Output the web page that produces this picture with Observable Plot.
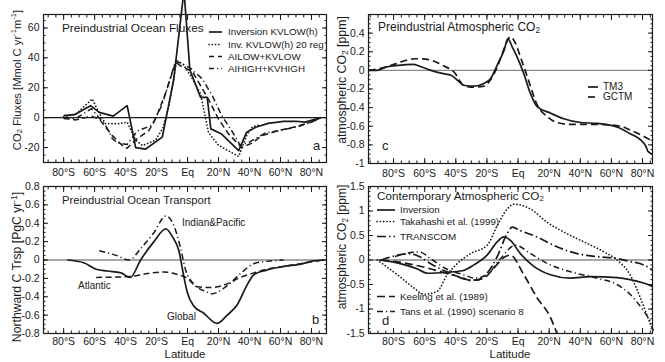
<!DOCTYPE html>
<html><head><meta charset="utf-8">
<script src="https://cdn.jsdelivr.net/npm/d3@7"></script>
<script src="https://cdn.jsdelivr.net/npm/@observablehq/plot@0.6"></script>
<style>
body{margin:0;background:#fff}
#wrap{position:relative;width:665px;height:362px;overflow:hidden;font-family:"Liberation Sans",Arial,sans-serif}
#wrap svg{position:absolute;left:0;top:0}
</style></head><body><div id="wrap"></div>
<script>
// ---------- DATA (latitude, value) ----------
// Panel a: Preindustrial Ocean Fluxes
const fluxInversion = [[-80,1.3],[-73,2],[-62.6,8],[-57,3.5],[-54,2.7],[-48,1],[-39,8],[-34.6,-14],[-33.5,-20],[-27,-21],[-16.3,-13],[-9,25],[-2.3,85],[1.5,32],[8.4,13.5],[12.7,13.5],[15,-7.5],[22,-11],[33,-22],[38,-10],[44,-6.4],[52,-3.8],[62,-2.5],[70,-2.4],[76,-3],[86,0]];
const fluxInv20 = [[-80,0.5],[-72,2.5],[-61.5,12.5],[-57,3],[-53,-4],[-44,-4],[-39,-3],[-33.5,-15],[-29,-18.7],[-20.6,-15],[-16,-7],[-12,8],[-7,38],[-3,36],[2,28],[8.4,16],[13.5,-10],[20,-18.5],[33,-26],[38.5,-11],[42,-6],[46,-5]];
const fluxAILow = [[-80,-0.5],[-72,-1.5],[-62,1],[-57,-1],[-48.6,-12],[-42,-18.7],[-39,-20.5],[-32.5,-14],[-25,-8.7],[-20.6,-0.7],[-14,17],[-7.7,37],[-3.5,34],[3,31],[7,24],[13.5,12.3],[20,-1],[26.5,-11],[35,-20],[41.7,-17],[48,-12],[59,-8.5],[70,-6],[80,-3],[86,0]];
const fluxAIHigh = [[-80,0],[-72,-0.5],[-62,6],[-58,1],[-53,-5],[-48.6,-14],[-45,-17],[-39,-18],[-32.5,-9],[-22.8,-5],[-16.3,9],[-7.7,38],[-3.5,36],[2,33],[9.5,26],[16,14.7],[22,1.5],[29,-9.6],[34,-18.5],[39.6,-16.5],[50,-10.4],[61,-8.3],[72,-5.7],[85,-1]];
// Panel b: Preindustrial Ocean Transport
const trspGlobal = [[-77.6,0],[-67,-0.03],[-59,-0.1],[-51.8,-0.12],[-43,-0.14],[-37,-0.19],[-30.3,0],[-21.7,0.2],[-14,0.34],[-10,0.26],[-5.6,0.1],[-2.4,-0.18],[-0.2,-0.35],[4,-0.5],[10.5,-0.58],[19,-0.69],[25.6,-0.6],[32,-0.49],[38.5,-0.27],[42.8,-0.16],[51,-0.11],[62,-0.07],[73,-0.045],[81,-0.01],[88,0]];
const trspIndPac = [[-57,0.1],[-46,0.05],[-37.8,0],[-30,0.13],[-21.6,0.3],[-14,0.48],[-9,0.38],[-4.5,0.13],[-1.4,-0.1],[4,-0.26],[12.7,-0.35],[15,-0.37],[25.6,-0.28],[34,-0.15],[42.8,-0.04],[51,-0.015],[62,0]];
const trspAtlantic = [[-59,-0.19],[-37,-0.18],[-27,-0.15],[-15.5,-0.13],[-7,-0.155],[0,-0.2],[6,-0.29],[15,-0.3],[25.6,-0.26],[34,-0.19],[42.8,-0.14],[51,-0.1],[62,-0.07],[73,-0.04],[88,0]];
// Panel c: Preindustrial Atmospheric CO2
const co2TM3 = [[-96,0],[-90.7,0],[-85,0.035],[-78.7,0.05],[-67,0.065],[-64,0.05],[-56,0],[-48,-0.035],[-43.4,-0.05],[-38,-0.12],[-35,-0.16],[-28.5,-0.17],[-22,-0.14],[-17.7,-0.09],[-13,0.07],[-9,0.215],[-6.5,0.34],[-3.7,0.25],[-0.5,0.14],[3.7,-0.035],[8,-0.25],[12.3,-0.39],[21,-0.46],[29.4,-0.52],[40,-0.56],[51,-0.57],[64,-0.61],[72,-0.68],[79,-0.75],[82,-0.81],[83.5,-0.87],[86.4,-0.9]];
const co2GCTM = [[-96,0],[-85,0.035],[-78.7,0.07],[-66,0.125],[-63,0.125],[-56,0.11],[-48,0.05],[-41,-0.02],[-35,-0.16],[-28.5,-0.18],[-22,-0.17],[-17.7,-0.1],[-13,0.05],[-9,0.23],[-5,0.36],[-1.6,0.29],[1.6,0.14],[6,-0.07],[12.3,-0.37],[19,-0.5],[25,-0.56],[34,-0.58],[51,-0.58],[66,-0.6],[72,-0.64],[81,-0.71],[86.4,-0.76]];
// Panel d: Contemporary Atmospheric CO2
const ctInversion = [[-89.5,0],[-77.6,-0.06],[-65,-0.18],[-58,-0.27],[-45.5,-0.25],[-35.9,-0.22],[-28.4,-0.1],[-19.9,0.1],[-13.4,0.37],[-9.2,0.47],[-4.9,0.4],[1.5,0.13],[10.1,-0.13],[20.8,-0.3],[33.6,-0.37],[46.5,-0.34],[63.6,-0.36],[72,-0.4],[80.7,-0.47],[86.4,-0.54]];
const ctTakahashi = [[-90.5,0],[-77.6,-0.3],[-66.9,-0.57],[-60.5,-0.7],[-52,-0.64],[-45.5,-0.3],[-39,-0.07],[-30.5,0.13],[-19.9,0.3],[-13.4,0.7],[-7,1.04],[-2.7,1.14],[8,1.04],[18.7,0.77],[29.4,0.57],[42.3,0.37],[55,0.17],[63.6,0],[72,-0.3],[78.6,-0.77],[85,-1.3],[87,-1.44]];
const ctTranscom = [[-88,0],[-69.3,0.13],[-62.9,0.06],[-56.4,-0.07],[-43.6,-0.27],[-32.9,-0.4],[-26.4,-0.41],[-19.9,-0.27],[-13.4,0.07],[-7,0.54],[-3.7,0.67],[1.5,0.6],[12.2,0.47],[25,0.27],[37.9,0.13],[50.7,0.07],[63.6,0.03],[72,-0.03],[80.7,-0.1],[86,-0.2]];
const ctKeeling = [[-88,0],[-75,-0.05],[-60,-0.15],[-45,-0.28],[-35,-0.37],[-30.5,-0.42],[-22,-0.37],[-15.6,-0.17],[-9.2,0.05],[-4.9,0.1],[3.7,-0.3],[12.2,-0.77],[20.8,-1.17],[25,-1.5]];
const ctTans = [[-79,0.07],[-72.8,0.13],[-64,0.17],[-55,0.0],[-45,-0.2],[-35,-0.3],[-28,-0.37],[-20,-0.3],[-12,0.0],[-1.6,0.3],[8,0.13],[18.7,-0.07],[33.7,-0.24],[50.7,-0.37],[63.6,-0.5],[72,-0.7],[80.7,-1.04],[85,-1.24]];

// ticks
const latMajor = [-80,-60,-40,-20,0,20,40,60,80];
const yTicksA = [-20,0,20,40,60];
const yTicksB = [-0.8,-0.6,-0.4,-0.2,0,0.2,0.4,0.6,0.8];
const yTicksC = [-1,-0.8,-0.6,-0.4,-0.2,0,0.2,0.4];
const yTicksD = [-1.5,-1,-0.5,0,0.5,1,1.5];

// ---------- STYLES ----------
const INK = "#1a1a1a";
const S = {
  solid:   {dash: null, w: 1.7},
  dotted:  {dash: "0.1,3.2", w: 1.7, cap: "round"},
  dashed:  {dash: "6,3.5", w: 1.5},
  dashdot: {dash: "6,3,1.2,3", w: 1.5},
  longdd:  {dash: "9,3,1.5,3", w: 1.7}
};
const W = 665, H = 362;
const fmtLat = d => d === 0 ? "Eq" : Math.abs(d) + "°" + (d < 0 ? "S" : "N");
const fmtNum = d => String(Math.round(d * 100) / 100);
const range = (a, b, s) => d3.range(Math.round(a / s), Math.round(b / s) + 1).map(i => +(i * s).toFixed(6));

function series(data, st, curve) {
  return Plot.line(data, {x: d => d[0], y: d => d[1], stroke: INK, strokeWidth: st.w,
    strokeDasharray: st.dash, strokeLinecap: st.cap || "butt", strokeLinejoin: "round", curve: curve || "linear"});
}

function panel(o) {
  const xMinor = range(Math.ceil(o.xdom[0] / 5) * 5, Math.floor(o.xdom[1] / 5) * 5, 5);
  const yMinor = range(Math.ceil(o.ydom[0] / o.ym - 1e-9) * o.ym, Math.floor(o.ydom[1] / o.ym + 1e-9) * o.ym, o.ym);
  const blank = () => "";
  return Plot.plot({
    width: W, height: H,
    marginLeft: o.ml, marginRight: W - o.r, marginTop: o.t, marginBottom: H - o.b,
    x: {domain: o.xdom, axis: null},
    y: {domain: o.ydom, axis: null},
    style: {background: "transparent", fontFamily: "Liberation Sans, Arial, sans-serif", fontSize: "10.5px", color: INK, overflow: "visible"},
    marks: [
      Plot.ruleY([0], {stroke: o.zero, strokeWidth: o.zw}),
      ...o.lines,
      Plot.frame({stroke: INK, strokeWidth: 1.2}),
      Plot.axisX({anchor: "bottom", ticks: xMinor, tickSize: -2.5, tickFormat: blank, label: null, stroke: INK}),
      Plot.axisX({anchor: "top", ticks: xMinor, tickSize: -2.5, tickFormat: blank, label: null, stroke: INK}),
      Plot.axisX({anchor: "bottom", ticks: latMajor, tickSize: -5, tickFormat: blank, label: null, stroke: INK}),
      Plot.axisX({anchor: "top", ticks: latMajor, tickSize: -5, tickFormat: blank, label: null, stroke: INK}),
      Plot.axisX({anchor: "bottom", ticks: latMajor, tickSize: 0, tickPadding: o.xpad, tickFormat: fmtLat, label: null, fill: INK}),
      Plot.axisY({anchor: "left", ticks: yMinor, tickSize: -2.5, tickFormat: blank, label: null, stroke: INK}),
      Plot.axisY({anchor: "right", ticks: yMinor, tickSize: -2.5, tickFormat: blank, label: null, stroke: INK}),
      Plot.axisY({anchor: "left", ticks: o.yt, tickSize: -5, tickFormat: blank, label: null, stroke: INK}),
      Plot.axisY({anchor: "right", ticks: o.yt, tickSize: -5, tickFormat: blank, label: null, stroke: INK}),
      Plot.axisY({anchor: "left", ticks: o.yt, tickSize: 0, tickPadding: 4, tickFormat: fmtNum, label: null, fill: INK})
    ]
  });
}

const wrap = document.getElementById("wrap");
wrap.appendChild(panel({ml: 43, r: 326, t: 14, b: 162, xdom: [-93, 89.7], ydom: [-30, 69], yt: yTicksA, ym: 5, xpad: 6,
  zero: INK, zw: 1.1, lines: [series(fluxAILow, S.dashed), series(fluxAIHigh, S.dashdot), series(fluxInv20, S.dotted), series(fluxInversion, S.solid)]}));
wrap.appendChild(panel({ml: 43, r: 326, t: 186, b: 333, xdom: [-93, 89.7], ydom: [-0.8, 0.8], yt: yTicksB, ym: 0.05, xpad: 4,
  zero: "#8a8a8a", zw: 1.4, lines: [series(trspAtlantic, S.dashed, "monotone-x"), series(trspIndPac, S.dashdot, "monotone-x"), series(trspGlobal, S.solid, "monotone-x")]}));
wrap.appendChild(panel({ml: 368, r: 652, t: 14, b: 163, xdom: [-96.1, 86.4], ydom: [-1, 0.6], yt: yTicksC, ym: 0.05, xpad: 6,
  zero: "#8a8a8a", zw: 1.4, lines: [series(co2GCTM, {dash: "7,4", w: 1.7}, "monotone-x"), series(co2TM3, S.solid, "monotone-x")]}));
wrap.appendChild(panel({ml: 368, r: 652, t: 186, b: 333, xdom: [-96.1, 86.4], ydom: [-1.5, 1.5], yt: yTicksD, ym: 0.1, xpad: 4,
  zero: "#8a8a8a", zw: 1.4, lines: [series(ctKeeling, {dash: "8,4", w: 1.7}, "monotone-x"), series(ctTans, S.dashdot, "monotone-x"), series(ctTranscom, S.longdd, "monotone-x"), series(ctTakahashi, S.dotted, "monotone-x"), series(ctInversion, S.solid, "monotone-x")]}));

// ---------- TEXT OVERLAY ----------
const svg = d3.select(wrap).append("svg").attr("width", W).attr("height", H)
  .style("font-family", "Liberation Sans, Arial, sans-serif").style("fill", INK);

function rich(x, y, parts, size, opts = {}) {
  const t = svg.append("text").attr("x", x).attr("y", y).attr("font-size", size)
    .attr("text-anchor", opts.anchor || "start").attr("dominant-baseline", "middle");
  if (opts.rotate) t.attr("transform", `rotate(-90 ${x} ${y})`);
  for (const p of parts) {
    const [s, kind] = Array.isArray(p) ? p : [p];
    const ts = t.append("tspan").text(s);
    if (kind === "sub") ts.attr("font-size", size * 0.68).attr("baseline-shift", "-30%");
    if (kind === "sup") ts.attr("font-size", size * 0.68).attr("baseline-shift", "45%");
  }
  return t;
}

// panel titles
rich(62, 29, ["Preindustrial Ocean Fluxes"], 11.8);
rich(378, 28, ["Preindustrial Atmospheric CO", ["2", "sub"]], 12);
rich(62, 201, ["Preindustrial Ocean Transport"], 11.2);
rich(377, 197, ["Contemporary Atmospheric CO", ["2", "sub"]], 11.7);

// y axis titles
rich(18, 80, ["CO", ["2", "sub"], " Fluxes [Mmol C yr", ["-1", "sup"], "m", ["-1", "sup"], "]"], 11.2, {rotate: true, anchor: "middle"});
rich(343, 80, ["atmospheric CO", ["2", "sub"], " [ppm]"], 12.3, {rotate: true, anchor: "middle"});
rich(18, 267, ["Northward C Trsp [PgC yr", ["-1", "sup"], "]"], 12.2, {rotate: true, anchor: "middle"});
rich(343, 247, ["atmospheric CO", ["2", "sub"], " [ppm]"], 12, {rotate: true, anchor: "middle"});

// x axis titles
rich(185, 355, ["Latitude"], 11.5, {anchor: "middle"});
rich(510, 355, ["Latitude"], 11.5, {anchor: "middle"});

// panel letters
rich(313, 147, ["a"], 13);
rich(312, 321, ["b"], 13);
rich(382, 147, ["c"], 13);
rich(382, 322, ["d"], 13);

// inline labels panel b
rich(182, 223, ["Indian&Pacific"], 10);
rich(78, 286, ["Atlantic"], 10);
rich(167, 317, ["Global"], 10);

// legends
const legendA = [
  {label: "Inversion KVLOW(h)", st: S.solid, y: 32},
  {label: "Inv. KVLOW(h) 20 reg", st: S.dotted, y: 44.5},
  {label: "AILOW+KVLOW", st: {dash: "5,4", w: 1.5}, y: 56.5},
  {label: "AIHIGH+KVHIGH", st: {dash: "5,3,1.2,3", w: 1.5}, y: 68.5}
];
const legendC = [
  {label: "TM3", st: S.solid, y: 87},
  {label: "GCTM", st: {dash: "7,4", w: 1.7}, y: 97}
];
const legendD = [
  {label: "Inversion", st: S.solid, y: 210},
  {label: "Takahashi et al. (1999)", st: S.dotted, y: 221.5},
  {label: "TRANSCOM", st: S.longdd, y: 236.5},
  {label: "Keeling et al. (1989)", st: {dash: "8,4", w: 1.7}, y: 296.5},
  {label: "Tans et al. (1990) scenario 8", st: S.dashdot, y: 311.5}
];
function legend(items, x0, x1, tx, size) {
  for (const it of items) {
    svg.append("line").attr("x1", x0).attr("x2", x1).attr("y1", it.y).attr("y2", it.y)
      .attr("stroke", INK).attr("stroke-width", it.st.w).attr("stroke-dasharray", it.st.dash)
      .attr("stroke-linecap", it.st.cap || "butt");
    rich(tx, it.y, [it.label], size);
  }
}
legend(legendA, 209, 222, 228, 9.8);
legend(legendC, 588, 598, 603, 10);
legend(legendD, 377, 395, 400, 9.8);
</script></body></html>
